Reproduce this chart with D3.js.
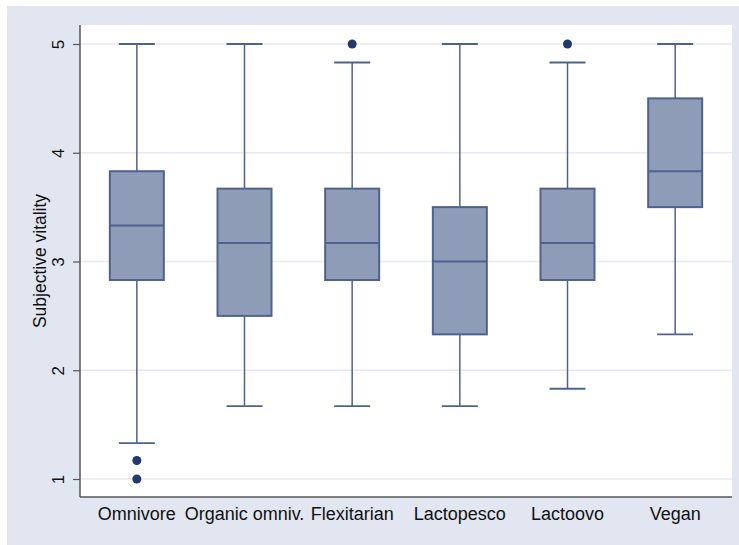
<!DOCTYPE html>
<html>
<head>
<meta charset="utf-8">
<script src="https://cdn.jsdelivr.net/npm/d3@7"></script>
<style>
  body { margin: 0; background: #fff; }
  svg { display: block; font-family: "Liberation Sans", Arial, sans-serif; }
</style>
</head>
<body>
<svg id="chart"></svg>
<script>
// Data
const diets = ["Omnivore", "Organic omniv.", "Flexitarian", "Lactopesco", "Lactoovo", "Vegan"];
const whiskerLow = [1.33, 1.67, 1.67, 1.67, 1.83, 2.33];
const q1 = [2.83, 2.5, 2.83, 2.33, 2.83, 3.5];
const medians = [3.33, 3.17, 3.17, 3.0, 3.17, 3.83];
const q3 = [3.83, 3.67, 3.67, 3.5, 3.67, 4.5];
const whiskerHigh = [5, 5, 4.83, 5, 4.83, 5];
const outliers = [[1.17, 1.0], [], [5], [], [5], []];
const yTicks = [1, 2, 3, 4, 5];

const W = 739, H = 545;
const plot = { left: 80, right: 732, top: 25, bottom: 497 };

const svg = d3.select("#chart").attr("width", W).attr("height", H);

// outer background
svg.append("rect")
    .attr("x", 7).attr("y", 6)
    .attr("width", W - 7).attr("height", H - 6)
    .attr("fill", "#e1e6f1");

// plot region
svg.append("rect")
    .attr("x", plot.left).attr("y", plot.top)
    .attr("width", plot.right - plot.left).attr("height", plot.bottom - plot.top)
    .attr("fill", "#fff");

const x = d3.scaleBand()
    .domain(diets)
    .range([83, 729])
    .padding(0);

const y = d3.scaleLinear()
    .domain([1, 5])
    .range([479, 44]);

// gridlines
svg.append("g")
    .selectAll("line")
    .data(yTicks)
    .join("line")
    .attr("x1", plot.left).attr("x2", plot.right)
    .attr("y1", d => y(d)).attr("y2", d => y(d))
    .attr("stroke", "#e6eaf3")
    .attr("stroke-width", 1.5);

// y axis
const yAxis = svg.append("g")
    .attr("transform", `translate(${plot.left},0)`)
    .call(d3.axisLeft(y).tickValues(yTicks).tickSize(7).tickFormat(d3.format("d")));
yAxis.select(".domain").attr("d", `M0,${plot.top}V${plot.bottom}`).attr("stroke", "#555").attr("stroke-width", 1.5);
yAxis.selectAll(".tick line").attr("stroke", "#555").attr("stroke-width", 1.2);
yAxis.selectAll(".tick text")
    .attr("x", null).attr("dy", null)
    .attr("transform", "translate(-22,0) rotate(-90)")
    .attr("text-anchor", "middle")
    .attr("dominant-baseline", "central")
    .attr("fill", "#111")
    .style("font-size", "17px");

// y axis title
svg.append("text")
    .attr("transform", `translate(40,${(plot.top + plot.bottom) / 2}) rotate(-90)`)
    .attr("text-anchor", "middle")
    .attr("dominant-baseline", "central")
    .attr("fill", "#111")
    .style("font-size", "17.5px")
    .text("Subjective vitality");

// x axis
const xAxis = svg.append("g")
    .attr("transform", `translate(0,${plot.bottom})`)
    .call(d3.axisBottom(x).tickSize(0).tickPadding(10));
xAxis.select(".domain").attr("d", `M${plot.left},0H${plot.right}`).attr("stroke", "#555").attr("stroke-width", 1.5);
xAxis.selectAll(".tick text")
    .attr("fill", "#111")
    .style("font-size", "18px");

// boxes
const boxW = 54, capW = 36;
const stroke = "#4f628f", fill = "#8f9cb7";
const g = svg.append("g");

diets.forEach((d, i) => {
    const cx = x(d) + x.bandwidth() / 2;
    // whiskers
    g.append("line")
        .attr("x1", cx).attr("x2", cx)
        .attr("y1", y(q3[i])).attr("y2", y(whiskerHigh[i]))
        .attr("stroke", stroke).attr("stroke-width", 1.5);
    g.append("line")
        .attr("x1", cx).attr("x2", cx)
        .attr("y1", y(q1[i])).attr("y2", y(whiskerLow[i]))
        .attr("stroke", stroke).attr("stroke-width", 1.5);
    [whiskerHigh[i], whiskerLow[i]].forEach(v => {
        g.append("line")
            .attr("x1", cx - capW / 2).attr("x2", cx + capW / 2)
            .attr("y1", y(v)).attr("y2", y(v))
            .attr("stroke", stroke).attr("stroke-width", 1.8);
    });
    // box
    g.append("rect")
        .attr("x", cx - boxW / 2)
        .attr("y", y(q3[i]))
        .attr("width", boxW)
        .attr("height", y(q1[i]) - y(q3[i]))
        .attr("fill", fill)
        .attr("stroke", stroke)
        .attr("stroke-width", 2);
    // median
    g.append("line")
        .attr("x1", cx - boxW / 2).attr("x2", cx + boxW / 2)
        .attr("y1", y(medians[i])).attr("y2", y(medians[i]))
        .attr("stroke", stroke).attr("stroke-width", 2);
    // outliers
    outliers[i].forEach(v => {
        g.append("circle")
            .attr("cx", cx).attr("cy", y(v))
            .attr("r", 4.5)
            .attr("fill", "#1f3a6b");
    });
});
</script>
</body>
</html>
